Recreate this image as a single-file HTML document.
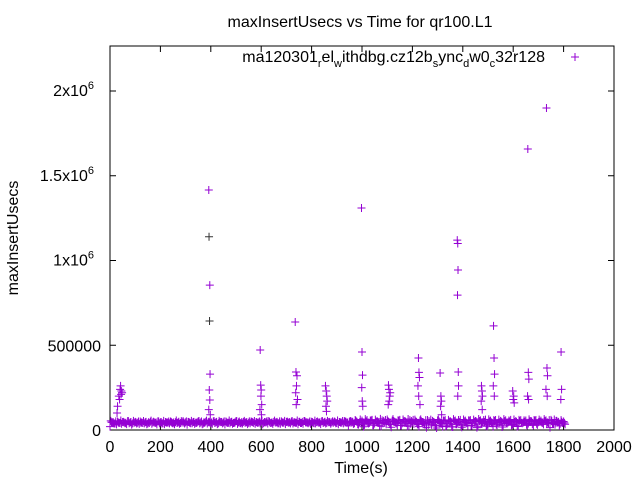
<!DOCTYPE html>
<html><head><meta charset="utf-8"><style>
body{margin:0;background:#fff}
svg{font-family:"Liberation Sans",sans-serif;font-size:16px}
</style></head><body>
<svg id="chart" width="640" height="480">
<rect x="0" y="0" width="640" height="480" fill="#fff"/>
<text x="360" y="27" text-anchor="middle" font-size="16">maxInsertUsecs vs Time for qr100.L1</text>
<text transform="translate(18,238) rotate(-90)" text-anchor="middle">maxInsertUsecs</text>
<text x="361" y="473" text-anchor="middle">Time(s)</text>
<g id="axes"></g>
<g id="marks"></g>
<g>
<text x="545" y="62" text-anchor="end">ma120301<tspan font-size="11" dy="5">r</tspan><tspan dy="-5">el</tspan><tspan font-size="11" dy="5">w</tspan><tspan dy="-5">ithdbg.cz12b</tspan><tspan font-size="11" dy="5">s</tspan><tspan dy="-5">ync</tspan><tspan font-size="11" dy="5">d</tspan><tspan dy="-5">w0</tspan><tspan font-size="11" dy="5">c</tspan><tspan dy="-5">32r128</tspan></text>
<path d="M571 57h8M575 53v8" stroke="#9400d3" stroke-width="1"/>
</g>
</svg>
<script>
const xTicks=[0,200,400,600,800,1000,1200,1400,1600,1800,2000];
const yTicks=[0,500000,1000000,1500000,2000000];
const yTickLabels=["0","500000","1x10|6","1.5x10|6","2x10|6"];
const baseT=[0,10,20,30,40,50,60,70,80,90,100,110,120,130,140,150,160,170,180,190,200,210,220,230,240,250,260,270,280,290,300,310,320,330,340,350,360,370,380,390,400,410,420,430,440,450,460,470,480,490,500,510,520,530,540,550,560,570,580,590,600,610,620,630,640,650,660,670,680,690,700,710,720,730,740,750,760,770,780,790,800,810,820,830,840,850,860,870,880,890,900,910,920,930,940,950,960,970,980,990,1000,1010,1020,1030,1040,1050,1060,1070,1080,1090,1100,1110,1120,1130,1140,1150,1160,1170,1180,1190,1200,1210,1220,1230,1240,1250,1260,1270,1280,1290,1300,1310,1320,1330,1340,1350,1360,1370,1380,1390,1400,1410,1420,1430,1440,1450,1460,1470,1480,1490,1500,1510,1520,1530,1540,1550,1560,1570,1580,1590,1600,1610,1620,1630,1640,1650,1660,1670,1680,1690,1700,1710,1720,1730,1740,1750,1760,1770,1780,1790,1800];
const baseV=[20,45,38,50,42,47,40,52,44,39,48,43,50,41,46,38,49,44,42,51,45,40,47,43,50,39,46,44,41,52,45,48,40,47,43,50,44,38,49,46,42,51,45,40,48,44,50,43,47,41,52,45,39,48,46,43,50,42,47,44,49,41,46,52,43,48,45,40,51,44,47,42,50,46,43,48,41,52,45,44,49,40,47,43,51,46,42,48,45,50,41,47,44,52,43,49,46,40,48,45,55,30,58,42,60,38,52,25,57,44,62,35,55,48,28,60,40,53,22,58,45,61,33,56,47,30,59,42,54,26,57,44,20,58,36,52,18,56,43,60,30,55,25,58,40,53,22,57,46,61,32,55,20,59,42,54,28,57,45,60,35,52,24,58,44,56,38,53,27,59,46,55,33,57,41,60,36,54,48,58,50];
const spikeT=[30,35,40,42,45,48,38,44,28,392,393,396,395,397,394,396,392,398,596,598,600,602,595,599,601,735,738,742,740,737,744,739,855,858,860,862,857,859,998,1000,1002,999,1001,1003,1105,1107,1110,1108,1104,1112,1224,1226,1228,1222,1225,1230,1310,1313,1315,1312,1316,1378,1380,1381,1379,1382,1383,1380,1474,1476,1478,1473,1477,1522,1524,1526,1521,1525,1598,1602,1600,1604,1658,1660,1662,1657,1661,1732,1734,1736,1730,1735,1790,1792,1789];
const spikeV=[140000,200000,240000,260000,230000,220000,180000,210000,100000,1416000,1140000,855000,643000,330000,236000,177000,120000,90000,472000,265000,236000,150000,120000,200000,90000,637000,342000,320000,260000,220000,180000,150000,260000,230000,200000,170000,140000,110000,1310000,460000,324000,250000,170000,140000,265000,240000,200000,170000,150000,220000,425000,340000,310000,260000,200000,150000,336000,200000,170000,140000,90000,1120000,1100000,944000,796000,342000,260000,200000,260000,230000,200000,170000,120000,614000,425000,330000,260000,200000,230000,200000,180000,160000,1658000,340000,300000,200000,180000,1900000,366000,320000,240000,200000,460000,240000,180000];
const NS="http://www.w3.org/2000/svg";
const X0=110,X1=614,Y0=430,Y1=46;
const xs=t=>X0+(t/2000)*(X1-X0);
const ys=v=>Y0-(v/2000000)*(Y0-91);
const axes=document.getElementById('axes');
const marks=document.getElementById('marks');
function mk(tag,attrs,parent){const e=document.createElementNS(NS,tag);for(const k in attrs)e.setAttribute(k,attrs[k]);parent.appendChild(e);return e;}
const frame=mk('rect',{x:X0,y:Y1,width:X1-X0,height:Y0-Y1,fill:'none',stroke:'#000','stroke-width':1},axes);


xTicks.forEach(t=>{const x=xs(t);
const p=mk('path',{d:`M${x} ${Y0}v-6M${x} ${Y1}v6`,stroke:'#000'},axes);


const l=mk('text',{x:x,y:452,'text-anchor':'middle'},axes);l.textContent=String(t);

});
yTicks.forEach((v,i)=>{const y=ys(v);
const p=mk('path',{d:`M${X0} ${y}h6M${X1} ${y}h-6`,stroke:'#000'},axes);


const parts=yTickLabels[i].split('|');
const l=mk('text',{x:parts[1]?94:101,y:y+(parts[1]?5:6),'text-anchor':'end'},axes);


l.textContent=parts[0];
if(parts[1]){const s=mk('tspan',{dy:-7,'font-size':11},l);s.textContent=parts[1];}});
function plus(t,v,col){const x=xs(t),y=ys(v);
const p=mk('path',{d:`M${x-4} ${y}h8M${x} ${y-4}v8`,stroke:col,'stroke-width':1},marks);

}
baseT.forEach((t,i)=>{plus(t,baseV[i]*1000,'#9400d3');
plus(t+3,(baseV[(i+3)%baseV.length]+4)*1000,'#9400d3');
plus(t+6,(baseV[(i+7)%baseV.length]-6)*1000,'#9400d3');});
spikeT.forEach((t,i)=>{const v=spikeV[i];
plus(t,v,(v===1140000||v===643000)?'#333':'#9400d3');});
</script>
</body></html>
